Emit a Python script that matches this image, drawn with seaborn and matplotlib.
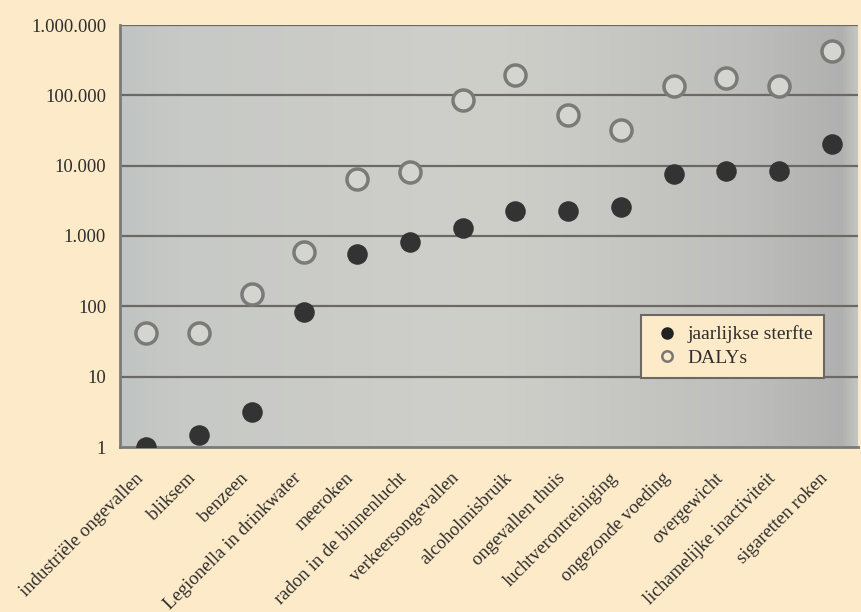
import numpy as np
import pandas as pd
import matplotlib
matplotlib.use("Agg")
import matplotlib.pyplot as plt
from matplotlib.colors import LinearSegmentedColormap
from matplotlib.ticker import FixedLocator, FixedFormatter
from matplotlib.lines import Line2D
import seaborn as sns

categories = [
    "industriële ongevallen", "bliksem", "benzeen", "Legionella in drinkwater",
    "meeroken", "radon in de binnenlucht", "verkeersongevallen", "alcoholmisbruik",
    "ongevallen thuis", "luchtverontreiniging", "ongezonde voeding", "overgewicht",
    "lichamelijke inactiviteit", "sigaretten roken",
]
sterfte = [1.0, 1.5, 3.1, 83, 560, 830, 1300, 2300, 2300, 2600, 7600, 8500, 8500, 20400]
dalys = [42, 42, 150, 590, 6500, 8200, 87000, 195000, 53000, 32000, 137000, 178000, 137000, 430000]
ytick_values = [1, 10, 100, 1000, 10000, 100000, 1000000]
ytick_labels = ["1", "10", "100", "1.000", "10.000", "100.000", "1.000.000"]
legend_labels = ["jaarlijkse sterfte", "DALYs"]

df = pd.DataFrame({"cat": categories, "sterfte": sterfte, "dalys": dalys})
df["pos"] = np.arange(len(categories))

sns.set_theme(style="white")
plt.rcParams["font.family"] = ["Liberation Serif", "DejaVu Serif"]

bg = "#FDEAC8"
txt = "#2E2E2E"
fig = plt.figure(figsize=(8.62, 6.12), dpi=100, facecolor=bg)
pos = [120/862, 1-447/612, (858-120)/862, (447-25)/612]

# gradient background
bax = fig.add_axes(pos, zorder=0)
cmap = LinearSegmentedColormap.from_list(
    "g", [(0, "#C0C4C2"), (0.08, "#C7C9C6"), (0.5, "#CFCFCA"), (0.85, "#BEBEBC"),
          (0.98, "#B0B0B0"), (1, "#C4C4C0")])
bax.imshow(np.linspace(0, 1, 256)[None, :], aspect="auto", cmap=cmap, extent=[0, 1, 0, 1])
bax.set_axis_off()

ax = fig.add_axes(pos, zorder=1)
ax.patch.set_alpha(0)
ax.set_yscale("log")
ax.set_ylim(1, 1000000)
ax.set_xlim(-0.5, len(categories) - 0.5)

for v in ytick_values[1:]:
    ax.axhline(v, color="#6C6864", lw=1.6, zorder=1)

sns.scatterplot(data=df, x="pos", y="dalys", ax=ax, marker="o", s=230,
                facecolor="#D4D4D0", edgecolor="#7A7A78", linewidth=2.5, zorder=3, legend=False)
sns.scatterplot(data=df, x="pos", y="sterfte", ax=ax, marker="o", s=190,
                color="#333333", edgecolor="#333333", linewidth=1, zorder=4, legend=False)

ax.yaxis.set_major_locator(FixedLocator(ytick_values))
ax.yaxis.set_major_formatter(FixedFormatter(ytick_labels))
ax.yaxis.set_minor_locator(FixedLocator([]))
ax.set_xticks(df["pos"])
ax.set_xticklabels(categories, rotation=45, ha="right", va="bottom", rotation_mode="anchor",
                   fontsize=13.5, color=txt)
ax.set_xticks(np.arange(len(categories) + 1) - 0.5, minor=True)
ax.tick_params(axis="x", which="major", length=0, pad=25)
ax.tick_params(axis="x", which="minor", length=5, color="#777777", width=1.2, direction="out")
ax.tick_params(axis="y", length=5, color="#777777", width=1.2, labelsize=13.5, labelcolor=txt, pad=5)
ax.set_xlabel("")
ax.set_ylabel("")

for s in ["top", "right"]:
    ax.spines[s].set_visible(False)
for s in ["left", "bottom"]:
    ax.spines[s].set_color("#7A7A78")
    ax.spines[s].set_linewidth(2)

handles = [
    Line2D([], [], marker="o", ls="", markersize=8, markerfacecolor="#222222", markeredgecolor="#222222"),
    Line2D([], [], marker="o", ls="", markersize=7.5, markerfacecolor=bg, markeredgecolor="#777777", markeredgewidth=1.8),
]
leg = ax.legend(handles, legend_labels, loc="upper left", bbox_to_anchor=(0.706, 0.313),
                frameon=True, fancybox=False, fontsize=14, handletextpad=0.25,
                handlelength=1.6, borderpad=0.55, labelspacing=0.3, borderaxespad=0)
leg.get_frame().set_facecolor(bg)
leg.get_frame().set_edgecolor("#6C6864")
leg.get_frame().set_linewidth(1.5)
leg.get_frame().set_alpha(1)
for t in leg.get_texts():
    t.set_color(txt)

fig.savefig("out.png", dpi=100, facecolor=bg)
